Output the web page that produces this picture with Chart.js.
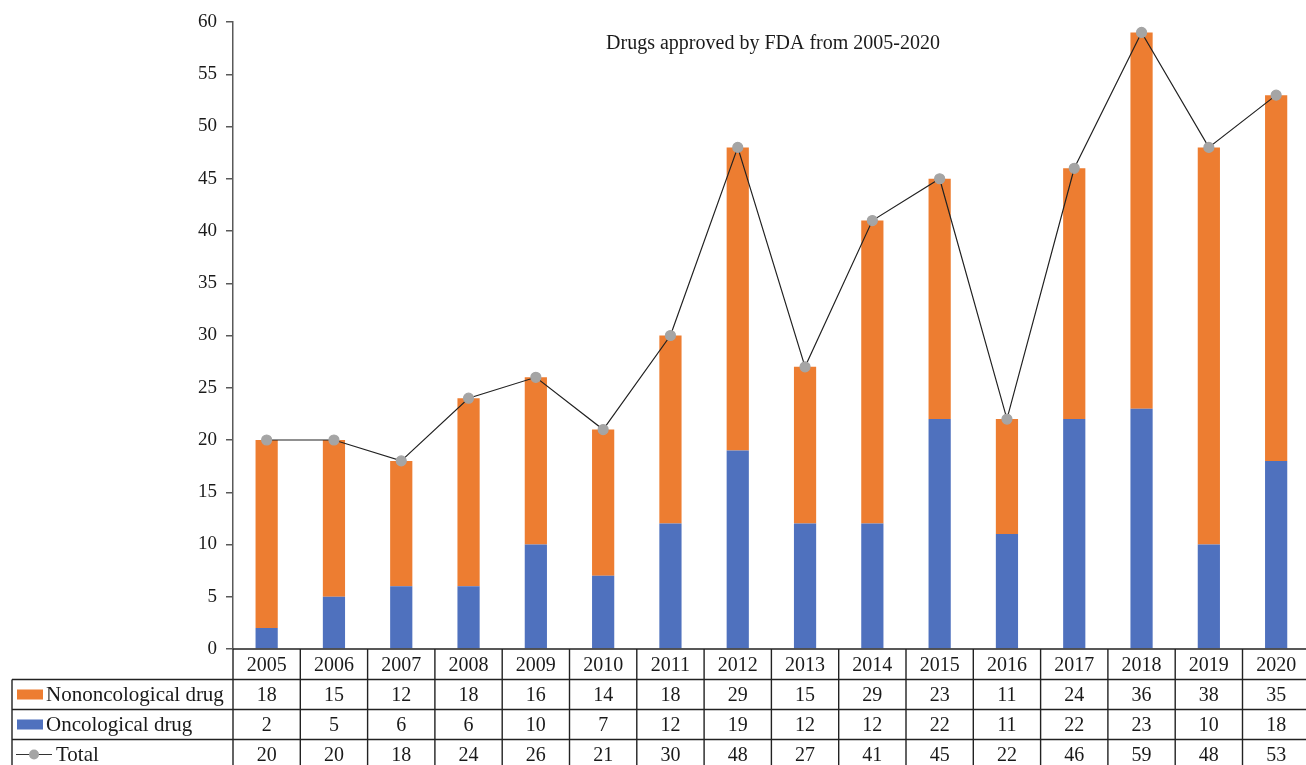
<!DOCTYPE html>
<html>
<head>
<meta charset="utf-8">
<script src="https://cdn.jsdelivr.net/npm/chart.js@4"></script>
<style>
  html, body { margin: 0; padding: 0; overflow: hidden; background: #fff; }
  #wrap { position: relative; width: 1316px; height: 765px; }
</style>
</head>
<body>
<div id="wrap"><canvas id="drugChart"></canvas></div>
<script>
const years = ['2005', '2006', '2007', '2008', '2009', '2010', '2011', '2012',
               '2013', '2014', '2015', '2016', '2017', '2018', '2019', '2020'];
const nonOncological = [18, 15, 12, 18, 16, 14, 18, 29, 15, 29, 23, 11, 24, 36, 38, 35];
const oncological = [2, 5, 6, 6, 10, 7, 12, 19, 12, 12, 22, 11, 22, 23, 10, 18];
const totals = [20, 20, 18, 24, 26, 21, 30, 48, 27, 41, 45, 22, 46, 59, 48, 53];
const yTicks = [0, 5, 10, 15, 20, 25, 30, 35, 40, 45, 50, 55, 60];

const ORANGE = '#ED7D31';
const BLUE = '#4F71BE';
const GREY = '#A5A5A5';
const FONT = '"Liberation Serif", "DejaVu Serif", serif';

// title inside the plot + data table under the axis
const tablePlugin = {
    id: 'dataTable',
    afterDraw(chart) {
        const ctx = chart.ctx;
        const x = chart.scales.x;
        const area = chart.chartArea;
        const colW = (area.right - area.left) / years.length;
        const top = area.bottom;
        const rowH = [30.5, 30, 30, 30];
        const rowY = [top];
        rowH.forEach(h => rowY.push(rowY[rowY.length - 1] + h));
        const tableLeft = 12;

        ctx.save();
        ctx.strokeStyle = '#222';
        ctx.lineWidth = 1.4;

        // horizontal lines
        ctx.beginPath();
        ctx.moveTo(area.left, rowY[0]);
        ctx.lineTo(area.right, rowY[0]);
        for (let r = 1; r < rowY.length; r++) {
            ctx.moveTo(tableLeft, rowY[r]);
            ctx.lineTo(area.right, rowY[r]);
        }
        // vertical lines
        for (let i = 0; i <= years.length; i++) {
            const xx = area.left + i * colW;
            ctx.moveTo(xx, rowY[0]);
            ctx.lineTo(xx, rowY[rowY.length - 1]);
        }
        ctx.moveTo(tableLeft, rowY[1]);
        ctx.lineTo(tableLeft, rowY[rowY.length - 1]);
        ctx.stroke();

        // cell text
        ctx.fillStyle = '#1a1a1a';
        ctx.font = '20px ' + FONT;
        ctx.textAlign = 'center';
        ctx.textBaseline = 'middle';
        const rows = [years, nonOncological, oncological, totals];
        rows.forEach((vals, r) => {
            const cy = (rowY[r] + rowY[r + 1]) / 2 + 1;
            vals.forEach((v, i) => {
                ctx.fillText(String(v), x.getPixelForValue(i), cy);
            });
        });

        // legend keys in first column
        ctx.textAlign = 'left';
        const c1 = (rowY[1] + rowY[2]) / 2;
        const c2 = (rowY[2] + rowY[3]) / 2;
        const c3 = (rowY[3] + rowY[4]) / 2;
        ctx.fillStyle = ORANGE;
        ctx.fillRect(17, c1 - 5, 26, 10);
        ctx.fillStyle = BLUE;
        ctx.fillRect(17, c2 - 5, 26, 10);
        ctx.strokeStyle = '#333';
        ctx.lineWidth = 1;
        ctx.beginPath();
        ctx.moveTo(16, c3);
        ctx.lineTo(52, c3);
        ctx.stroke();
        ctx.fillStyle = GREY;
        ctx.beginPath();
        ctx.arc(34, c3, 5, 0, Math.PI * 2);
        ctx.fill();

        ctx.fillStyle = '#1a1a1a';
        ctx.font = '21px ' + FONT;
        ctx.fillText('Nononcological drug', 46, c1 + 1);
        ctx.fillText('Oncological drug', 46, c2 + 1);
        ctx.fillText('Total', 56, c3 + 1);

        // title
        ctx.font = '20px ' + FONT;
        ctx.textAlign = 'center';
        ctx.fillText('Drugs approved by FDA from 2005-2020', 773, 44);
        ctx.restore();
    }
};

new Chart(document.getElementById('drugChart'), {
    type: 'bar',
    data: {
        labels: years,
        datasets: [
            {
                type: 'line',
                label: 'Total',
                data: totals,
                stack: 'total',
                borderColor: '#222',
                borderWidth: 1.2,
                pointBackgroundColor: GREY,
                pointBorderColor: GREY,
                pointRadius: 5,
                tension: 0,
                order: 0
            },
            {
                label: 'Oncological drug',
                data: oncological,
                stack: 'drugs',
                backgroundColor: BLUE,
                barPercentage: 0.66,
                categoryPercentage: 0.5,
                order: 1
            },
            {
                label: 'Nononcological drug',
                data: nonOncological,
                stack: 'drugs',
                backgroundColor: ORANGE,
                barPercentage: 0.66,
                categoryPercentage: 0.5,
                order: 1
            }
        ]
    },
    options: {
        responsive: true,
        maintainAspectRatio: false,
        animation: false,
        layout: {
            padding: { left: 0, right: 1, top: 22, bottom: 116 }
        },
        plugins: {
            legend: { display: false },
            tooltip: { enabled: false },
            title: { display: false }
        },
        scales: {
            x: {
                display: false,
                stacked: true
            },
            y: {
                stacked: true,
                min: 0,
                max: 60,
                afterFit(scale) { scale.width = 233; },
                afterBuildTicks(scale) { scale.ticks = yTicks.map(v => ({ value: v })); },
                border: { color: '#595959', width: 1.5 },
                grid: {
                    drawOnChartArea: false,
                    drawTicks: true,
                    tickLength: 7,
                    color: '#595959',
                    lineWidth: 1.5
                },
                ticks: {
                    padding: 9,
                    color: '#1a1a1a',
                    font: { family: FONT, size: 19 }
                }
            }
        }
    },
    plugins: [tablePlugin]
});
</script>
</body>
</html>
